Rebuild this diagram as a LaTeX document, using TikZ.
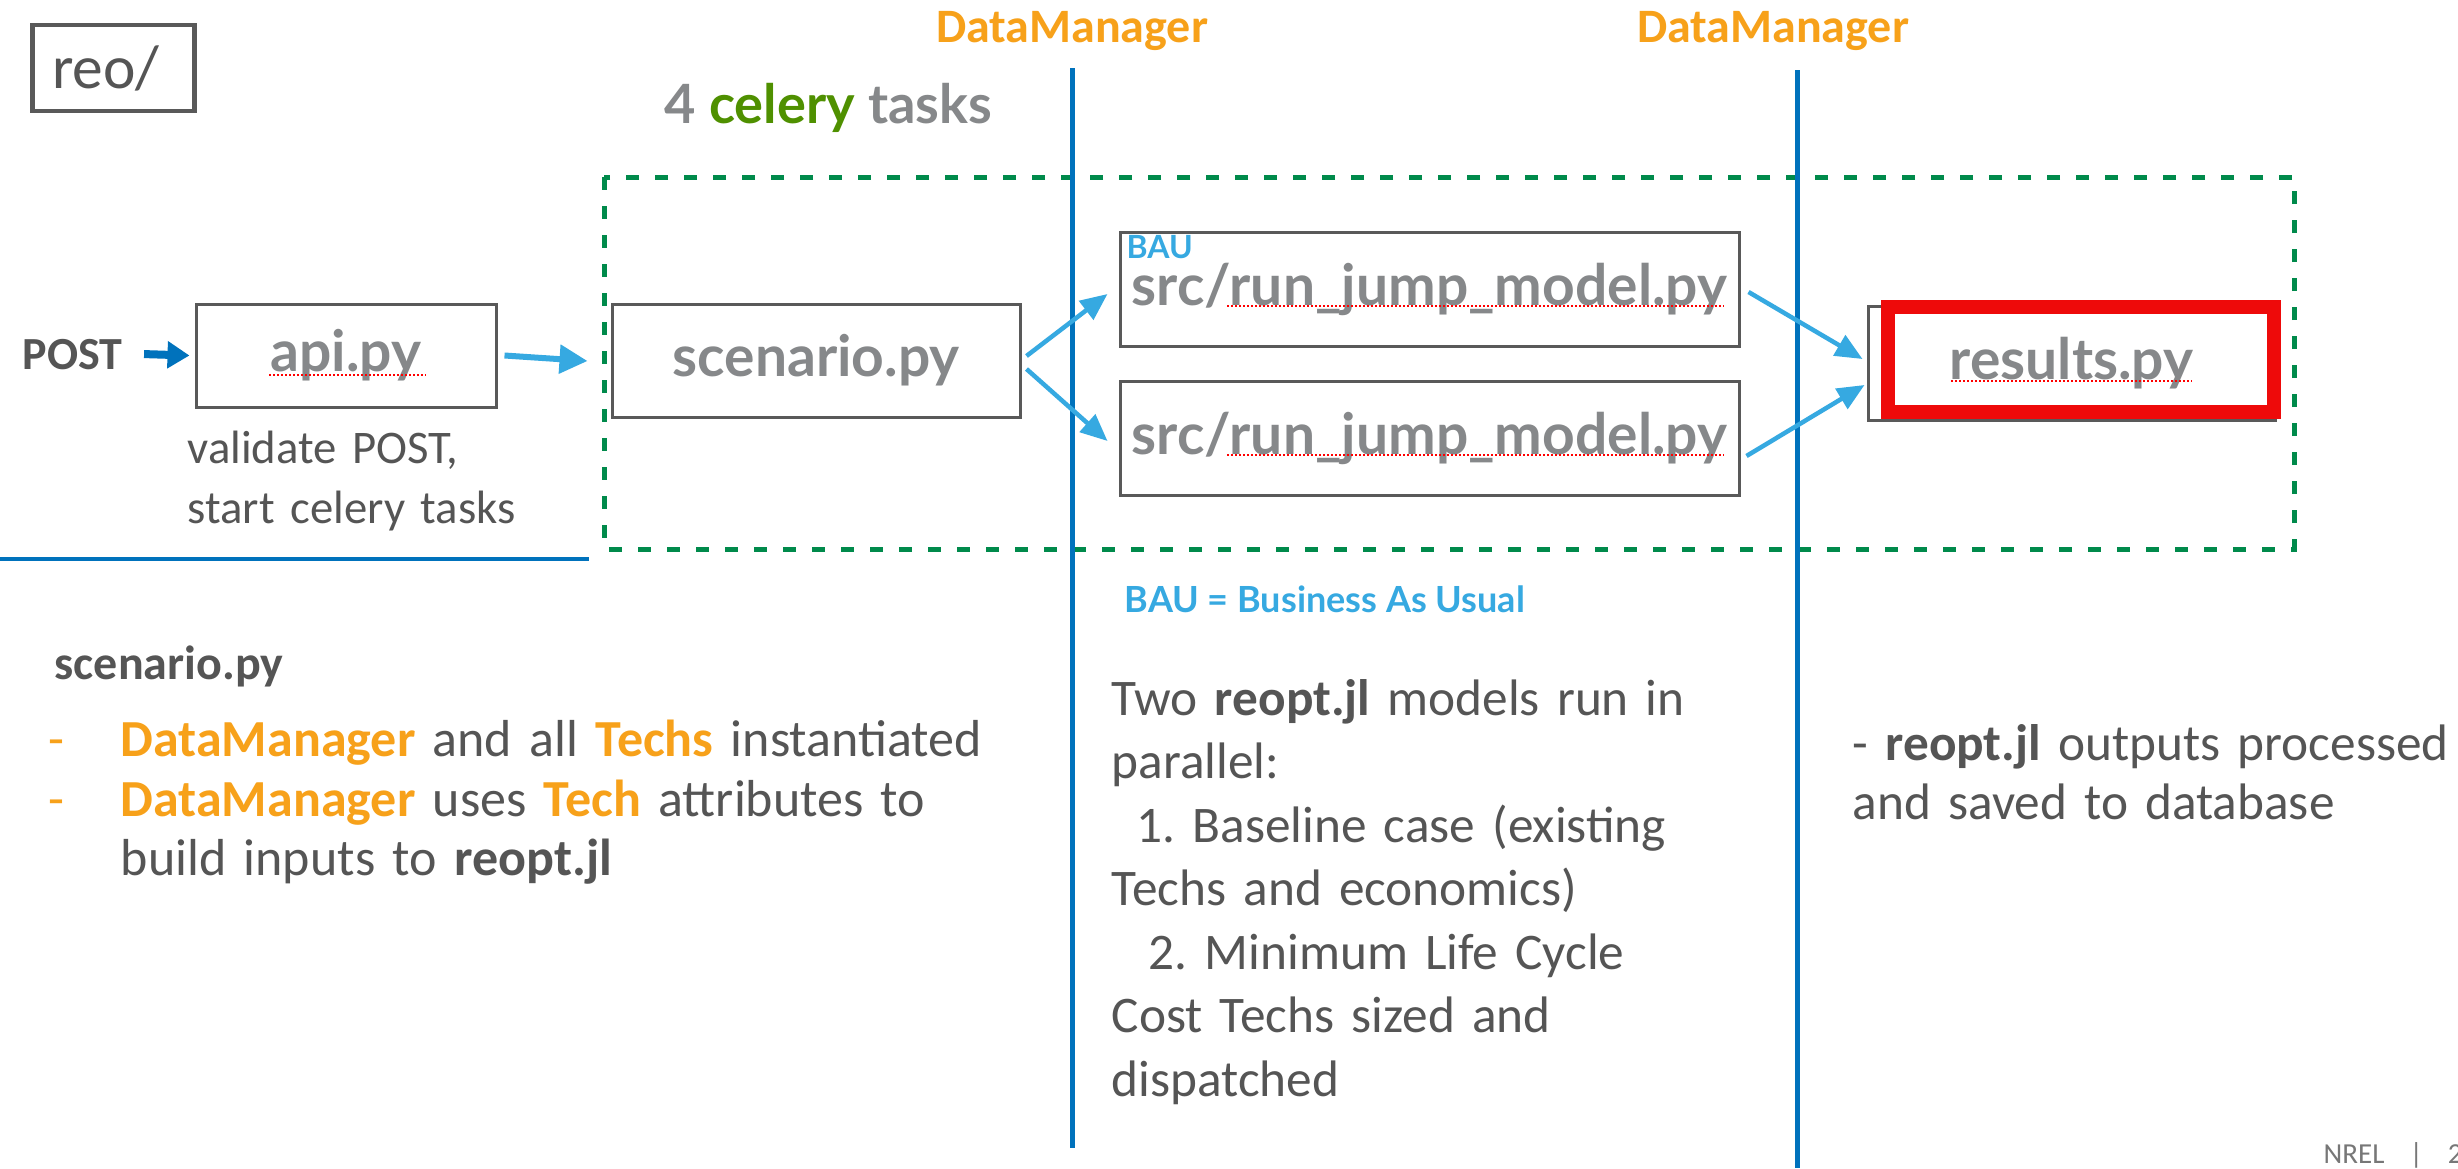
\documentclass[tikz,border=0pt]{standalone}
\usepackage{fontspec}
\setmainfont{Carlito}
\newfontfamily\labelfont{Lato}
\usepackage{tikz}
\usetikzlibrary{positioning,arrows.meta}
\frenchspacing

\definecolor{boxgray}{HTML}{86888A}
\definecolor{txtgray}{HTML}{555555}
\definecolor{dmorange}{HTML}{F7A11A}
\definecolor{celerygreen}{HTML}{4F9000}
\definecolor{dashgreen}{HTML}{008A4B}
\definecolor{arrowblue}{HTML}{36A9E1}
\definecolor{lineblue}{HTML}{0072BC}
\definecolor{framered}{HTML}{EE0A0A}
\definecolor{edgegray}{HTML}{595959}

\newcommand{\orng}[1]{\textcolor{dmorange}{\textbf{#1}}}

\begin{document}
\begin{tikzpicture}[x=0.1mm,y=-0.1mm,
    txt/.style={inner sep=0pt, text=txtgray, align=left,
      font=\fontsize{14.6pt}{18.07pt}\selectfont},
    filebox/.style={draw=edgegray, line width=0.3mm, fill=white, text=boxgray,
      font=\labelfont\bfseries\fontsize{16.2pt}{18pt}\selectfont},
    flow/.style={draw=arrowblue, line width=0.6mm, -{Triangle[length=2.8mm,width=2.8mm]}},
    fork/.style={draw=arrowblue, line width=0.45mm, -{Triangle[length=2.7mm,width=2.3mm]}},
    sepline/.style={draw=lineblue, line width=0.5mm},
    squiggle/.style={draw=red, line width=0.2mm, dash pattern=on 0.2mm off 0.2mm}]
  \fill[white] (0,0) rectangle (2458,1168);
  \useasboundingbox (0,0) rectangle (2458,1168);

  % headers
  \node (reo) [draw=edgegray, line width=0.45mm, anchor=west, minimum width=16.2mm,
    minimum height=8.6mm, text width=12.2mm, inner xsep=2mm, align=left, text=txtgray,
    font=\fontsize{17.5pt}{19pt}\selectfont] at (30,68) {reo/};
  \node (dmA) [anchor=base, inner sep=0pt, text=dmorange,
    font=\bfseries\fontsize{13.66pt}{16pt}\selectfont] at (1072,43) {DataManager};
  \node (dmB) [anchor=base, inner sep=0pt, text=dmorange,
    font=\bfseries\fontsize{13.66pt}{16pt}\selectfont] at (1773,43) {DataManager};
  \node (tasks) [anchor=base west, inner sep=0pt, text=boxgray,
    font=\labelfont\bfseries\fontsize{15.4pt}{18pt}\selectfont] at (664,123)
    {4 \textcolor{celerygreen}{celery} tasks};

  % celery area and DataManager lines
  \draw[dashgreen, line width=0.5mm, dash pattern=on 1.3mm off 1.6mm] (604,177) rectangle (2294,549);
  \draw[sepline] (1072,68) -- (1072,1148);
  \draw[sepline] (1797,70) -- (1797,1168);
  \draw[sepline, line width=0.45mm] (0,559) -- (589,559);

  % files
  \node (post) [anchor=base west, inner sep=0pt, text=txtgray,
    font=\bfseries\fontsize{13.09pt}{16pt}\selectfont] at (22,369) {POST};
  \node (api) [filebox, minimum width=30mm, minimum height=10.3mm] at (346,355.5) {api.py};
  \node (scenario) [filebox, minimum width=40.8mm, minimum height=11.3mm] at (816,360.5) {scenario.py};
  \node (runbau) [filebox, minimum width=61.9mm, minimum height=11.4mm] at (1429.5,289) {src/run\_jump\_model.py};
  \node (runopt) [filebox, minimum width=61.9mm, minimum height=11.4mm] at (1429.5,438.5) {src/run\_jump\_model.py};
  \node (results) [filebox, minimum width=40.7mm, minimum height=11.4mm] at (2071.5,363) {results.py};
  \node (frame) [draw=framered, line width=1.4mm, minimum width=38.6mm, minimum height=10.5mm] at (2081,359.5) {};
  \node (bau) [anchor=base west, inner sep=0pt, text=arrowblue,
    font=\labelfont\bfseries\fontsize{9.1pt}{10pt}\selectfont] at (1126,258) {BAU};

  % spell-check marks
  \draw[squiggle] (269,375) -- (426,375);
  \draw[squiggle] (1227,306) -- (1724,306);
  \draw[squiggle] (1227,455) -- (1724,455);
  \draw[squiggle] (1951,381) -- (2192,381);

  % arrows
  \draw[flow, draw=lineblue, line width=0.8mm, -{Triangle[length=2.2mm,width=2.6mm]}]
    ([shift={(21,0)}]post.east) -- ([shift={(-5,0)}]api.west);
  \draw[flow] ([shift={(7,0)}]api.east) -- ([shift={(-23,0.5)}]scenario.west);
  \draw[fork] ([shift={(5,-4.5)}]scenario.east) -- ([shift={(-11,5)}]runbau.west);
  \draw[fork] ([shift={(5,8.5)}]scenario.east) -- ([shift={(-11,2.5)}]runopt.west);
  \draw[fork] ([shift={(8,3)}]runbau.east) -- ([shift={(-4,-4)}]results.west);
  \draw[fork] ([shift={(6,17.5)}]runopt.east) -- ([shift={(-2,22)}]results.west);

  % notes
  \node (apinote) [txt, anchor=base west, text width=40mm,
    font=\fontsize{13.3pt}{17.07pt}\selectfont] at (187,463)
    {validate POST,\\start celery tasks};
  \node (baukey) [anchor=base west, inner sep=0pt, text=arrowblue,
    font=\labelfont\bfseries\fontsize{10.24pt}{12pt}\selectfont] at (1124,612)
    {BAU = Business As Usual};
  \node (scenhead) [anchor=base west, inner sep=0pt, text=txtgray,
    font=\bfseries\fontsize{13.66pt}{16pt}\selectfont] at (54,679) {scenario.py};
  \node (dashA) [anchor=base west, inner sep=0pt, text=dmorange,
    font=\fontsize{14.8pt}{18pt}\selectfont] at (48,756) {-};
  \node (dashB) [anchor=base west, inner sep=0pt, text=dmorange,
    font=\fontsize{14.8pt}{18pt}\selectfont] at (48,816) {-};
  \node (scennote) [txt, anchor=base west, text width=92mm,
    font=\fontsize{14.8pt}{17.07pt}\selectfont] at (120,756)
    {\orng{DataManager} and all \orng{Techs} instantiated\\
     \orng{DataManager} uses \orng{Tech} attributes to\\
     build inputs to \textbf{reopt.jl}};
  \node (modelsnote) [txt, anchor=base west, text width=62mm] at (1111,715)
    {Two \textbf{reopt.jl} models run in\\
     parallel:\\
     \hspace*{2.5mm}1. Baseline case (existing\\
     Techs and economics)\\
     \hspace*{3.7mm}2. Minimum Life Cycle\\
     Cost Techs sized and\\
     dispatched};
  \node (resultsnote) [txt, anchor=base west, text width=60mm,
    font=\fontsize{14.6pt}{16.8pt}\selectfont] at (1852,760)
    {- \textbf{reopt.jl} outputs processed\\and saved to database};
  \node (footer) [anchor=base west, inner sep=0pt, text=txtgray!80,
    font=\fontsize{8.25pt}{10pt}\selectfont] at (2323,1163)
    {NREL\hspace{2.5mm}|\hspace{2.5mm}2};
\end{tikzpicture}
\end{document}
